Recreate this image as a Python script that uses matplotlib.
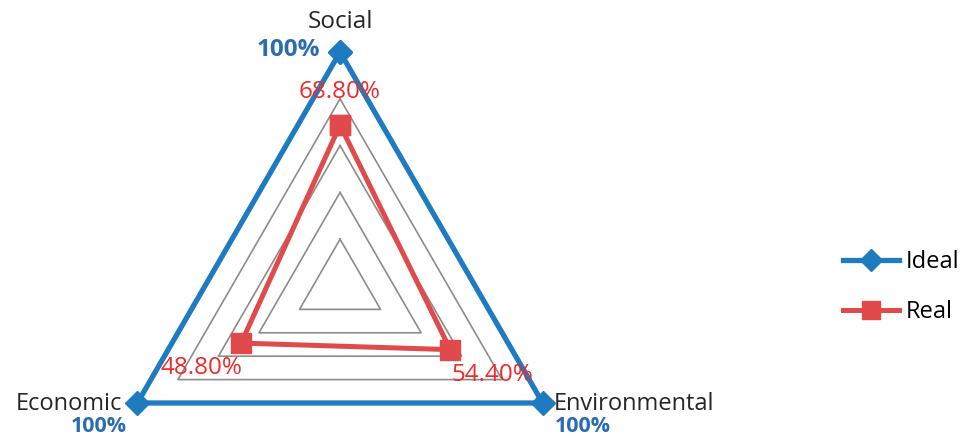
import numpy as np
import matplotlib
matplotlib.use("Agg")
import matplotlib.pyplot as plt
from matplotlib.lines import Line2D

# Radar chart data
categories = ["Social", "Environmental", "Economic"]
ideal = [100, 100, 100]
real = [68.8, 54.4, 48.8]
grid_levels = [20, 40, 60, 80, 100]
ideal_labels = ["100%", "100%", "100%"]
real_labels = ["68.80%", "54.40%", "48.80%"]

BLUE = "#1f7bc0"
RED = "#e04a4a"
GRID = "#8c8c8c"
FONT = "Open Sans"
FS = 17.5

angles = np.deg2rad([90, -30, 210])


def to_xy(values):
    r = np.asarray(values, dtype=float) / 100.0
    return r * np.cos(angles), r * np.sin(angles)


fig = plt.figure(figsize=(9.63, 4.38), dpi=100)
ax = fig.add_axes([0, 0, 1, 1])
ax.set_xlim(-1.453, 2.662)
ax.set_ylim(-0.6496, 1.2222)
ax.set_aspect("equal")
ax.axis("off")

# concentric triangular gridlines
for lvl in grid_levels:
    gx, gy = to_xy([lvl] * 3)
    ax.plot(np.append(gx, gx[0]), np.append(gy, gy[0]), color=GRID, lw=1.2, zorder=1)

# series
ix, iy = to_xy(ideal)
ax.plot(np.append(ix, ix[0]), np.append(iy, iy[0]), color=BLUE, lw=3.8,
        marker="D", ms=12, zorder=3, solid_joinstyle="miter")
rx, ry = to_xy(real)
ax.plot(np.append(rx, rx[0]), np.append(ry, ry[0]), color=RED, lw=3.6,
        marker="s", ms=14, zorder=4)

PT = 0.72  # points per pixel at 100 dpi

# category labels
cat_offsets = [((0, 30), "center", FS), ((11, -1), "left", 17),
               ((-15, -1), "right", 17)]
for i, name in enumerate(categories):
    (ox, oy), ha, fs = cat_offsets[i]
    ax.annotate(name, (ix[i], iy[i]), xytext=(ox * PT, oy * PT),
                textcoords="offset points", ha=ha, va="center",
                fontsize=fs, color="#262626", family=FONT)

# ideal value labels
ideal_offsets = [((-20, 2), "right", FS), ((12, -24), "left", 15.5),
                 ((-11, -24), "right", 15.5)]
for i, lab in enumerate(ideal_labels):
    (ox, oy), ha, fs = ideal_offsets[i]
    ax.annotate(lab, (ix[i], iy[i]), xytext=(ox * PT, oy * PT),
                textcoords="offset points", ha=ha, va="center",
                fontsize=fs, color="#2a6db0", fontweight="bold", family=FONT)

# real value labels
real_offsets = [(0, 33), (42, -25), (-40, -25)]
for i, lab in enumerate(real_labels):
    ox, oy = real_offsets[i]
    ax.annotate(lab, (rx[i], ry[i]), xytext=(ox * PT, oy * PT),
                textcoords="offset points", ha="center", va="center",
                fontsize=FS, color="#ee2a2a", family=FONT)

handles = [
    Line2D([], [], color=BLUE, lw=3.8, marker="D", ms=11),
    Line2D([], [], color=RED, lw=3.6, marker="s", ms=13),
]
fig.legend(handles, ["Ideal", "Real"], loc="center left",
           bbox_to_anchor=(0.853, 0.345), frameon=False,
           prop={"family": FONT, "size": 17}, handlelength=2.4,
           handletextpad=0.25, labelspacing=1.1)

fig.savefig("out.png", dpi=100)
